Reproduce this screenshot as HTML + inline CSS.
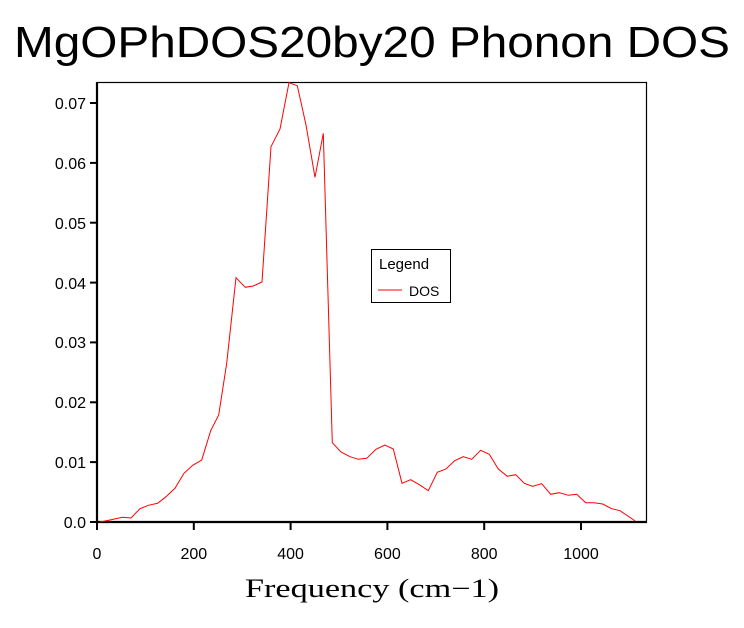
<!DOCTYPE html>
<html><head><style>body{margin:0;background:#fff}svg{display:block}</style></head><body>
<svg width="744" height="628" viewBox="0 0 744 628" xmlns="http://www.w3.org/2000/svg">
<rect width="744" height="628" fill="#fff"/>
<text x="372" y="57" text-anchor="middle" font-family="Liberation Sans, sans-serif" font-size="44" textLength="716" lengthAdjust="spacingAndGlyphs">MgOPhDOS20by20 Phonon DOS</text>
<rect x="97" y="82.5" width="549.5" height="439.5" fill="none" stroke="#000" stroke-width="1.2"/>
<line x1="97" y1="82" x2="97" y2="523" stroke="#000" stroke-width="2.2"/>
<line x1="96" y1="522" x2="647" y2="522" stroke="#000" stroke-width="2.2"/>
<g stroke="#000" stroke-width="2">
<line x1="90" y1="522" x2="97" y2="522"/><line x1="90" y1="462.1" x2="97" y2="462.1"/><line x1="90" y1="402.3" x2="97" y2="402.3"/><line x1="90" y1="342.4" x2="97" y2="342.4"/><line x1="90" y1="282.6" x2="97" y2="282.6"/><line x1="90" y1="222.7" x2="97" y2="222.7"/><line x1="90" y1="162.9" x2="97" y2="162.9"/><line x1="90" y1="103" x2="97" y2="103"/>
<line x1="97" y1="522" x2="97" y2="530"/><line x1="193.8" y1="522" x2="193.8" y2="530"/><line x1="290.6" y1="522" x2="290.6" y2="530"/><line x1="387.4" y1="522" x2="387.4" y2="530"/><line x1="484.2" y1="522" x2="484.2" y2="530"/><line x1="581" y1="522" x2="581" y2="530"/>
</g>
<g font-family="Liberation Sans, sans-serif" font-size="16" text-anchor="end" fill="#000">
<text x="86" y="528">0.0</text><text x="86" y="468">0.01</text><text x="86" y="408">0.02</text><text x="86" y="348">0.03</text><text x="86" y="289">0.04</text><text x="86" y="229">0.05</text><text x="86" y="169">0.06</text><text x="86" y="109">0.07</text>
</g>
<g font-family="Liberation Sans, sans-serif" font-size="16" text-anchor="middle" fill="#000">
<text x="97" y="559">0</text><text x="193.8" y="559">200</text><text x="290.6" y="559">400</text><text x="387.4" y="559">600</text><text x="484.2" y="559">800</text><text x="581" y="559">1000</text>
</g>
<text x="372" y="597" text-anchor="middle" font-family="Liberation Serif, serif" font-size="26" textLength="254" lengthAdjust="spacingAndGlyphs">Frequency (cm−1)</text>
<polyline fill="none" stroke="#f00" stroke-width="1" points="100,522 110,520 122.3,517.3 131,518 140,508.7 148.3,505.3 157.7,503.3 166,496.7 175,488.3 184,473.3 192.7,465.3 201.7,460 210.7,430.7 218.7,415 226.7,363.3 236,277.7 245.3,287.3 253.3,286 262,282 271,146.7 280,129 289,82.7 297.3,85.7 306,125 315,177.3 323.3,133.3 332.3,442.7 341,452 350,456.7 358.3,459.3 366.7,458.3 376,449.3 385,445 393.3,449 402,483.3 410.7,479.7 419.3,484.7 428.3,490.7 437.3,472.3 446,469 454.7,460.7 463.3,456.7 471.7,459.3 480.7,450.3 489.3,454.3 498.3,469 507.3,476.3 515.7,474.7 524.3,483.3 532.7,486.3 541.7,483.7 550.7,494.3 559.3,492.7 568.3,495.3 576.7,494.3 585.7,502.7 594,502.7 602.7,504 611.7,508.7 620,510.7 635.3,521"/>
<rect x="371.5" y="249.5" width="79" height="53" fill="#fff" stroke="#000" stroke-width="1"/>
<text x="379" y="269" font-family="Liberation Sans, sans-serif" font-size="15" fill="#000">Legend</text>
<line x1="378" y1="290" x2="402" y2="290" stroke="#f00" stroke-width="1"/>
<text x="409" y="296" font-family="Liberation Sans, sans-serif" font-size="14" fill="#000">DOS</text>
</svg>
</body></html>
